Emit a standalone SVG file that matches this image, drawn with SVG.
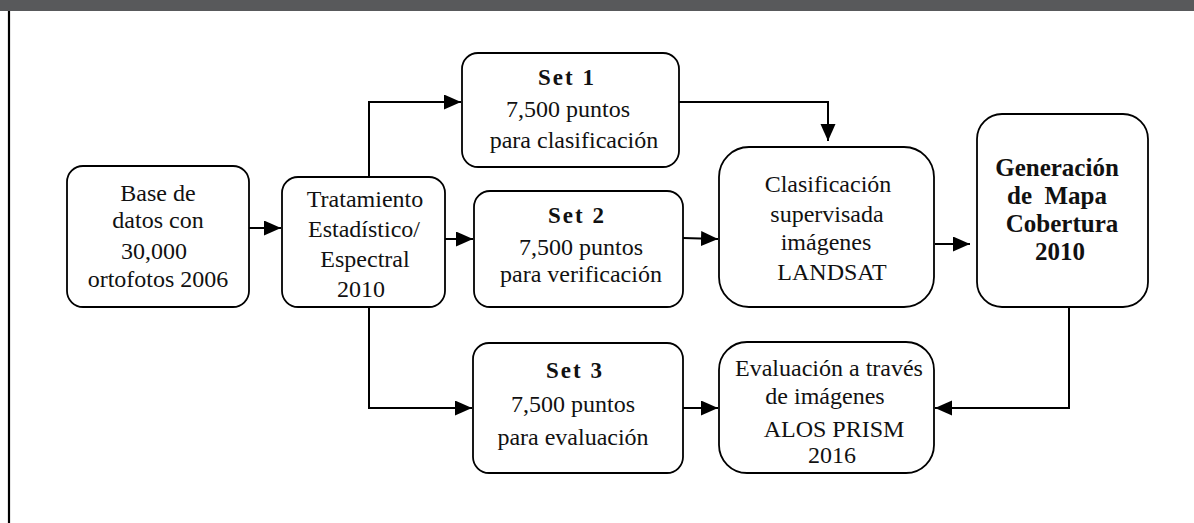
<svg xmlns="http://www.w3.org/2000/svg" width="1194" height="523" viewBox="0 0 1194 523">
<style>
.box{fill:#fff;stroke:#000;stroke-width:1.8}
.t{font-family:'Liberation Serif','Times New Roman',Times,serif;font-size:24px;font-weight:normal;fill:#111;text-anchor:middle}
.b{font-weight:bold}
.sp{letter-spacing:2px;font-size:23px}
.g{font-size:25px}
.c{fill:none;stroke:#000;stroke-width:2}
</style>
<defs>
<marker id="ah" markerUnits="userSpaceOnUse" markerWidth="18" markerHeight="16" refX="17" refY="7.5" orient="auto">
<path d="M0,0 L17,7.5 L0,15 Z" fill="#000"/>
</marker>
</defs>
<rect x="0" y="0" width="1194" height="11" fill="#58595b"/>
<line x1="9" y1="11" x2="9" y2="523" stroke="#000" stroke-width="2.2"/>

<g id="connectors">
<path class="c" d="M249,228 H281" marker-end="url(#ah)"/>
<path class="c" d="M369,177 V102 H461" marker-end="url(#ah)"/>
<path class="c" d="M445,239 H473" marker-end="url(#ah)"/>
<path class="c" d="M369,307 V408 H472" marker-end="url(#ah)"/>
<path class="c" d="M679,102 H828 V141" marker-end="url(#ah)"/>
<path class="c" d="M683,238 L718,239" marker-end="url(#ah)"/>
<path class="c" d="M935,244 H970" marker-end="url(#ah)"/>
<path class="c" d="M683,408 H718" marker-end="url(#ah)"/>
<path class="c" d="M1069,307 V408 H935" marker-end="url(#ah)"/>
</g>

<g id="base">
<rect class="box" x="67" y="166" width="182" height="141" rx="16"/>
<text class="t" x="158" y="201">Base de</text>
<text class="t" x="158" y="228">datos con</text>
<text class="t" x="154" y="259">30,000</text>
<text class="t" x="158" y="287">ortofotos 2006</text>
</g>

<g id="tratamiento">
<rect class="box" x="282" y="177" width="163" height="130" rx="16"/>
<text class="t" x="365" y="207">Tratamiento</text>
<text class="t" x="364" y="237">Estadístico/</text>
<text class="t" x="365" y="267">Espectral</text>
<text class="t" x="361" y="297">2010</text>
</g>

<g id="set1">
<rect class="box" x="462" y="53" width="217" height="114" rx="16"/>
<text class="t b sp" x="567" y="85">Set 1</text>
<text class="t" x="568" y="117">7,500 puntos</text>
<text class="t" x="574" y="148">para clasificación</text>
</g>

<g id="set2">
<rect class="box" x="474" y="191" width="209" height="116" rx="16"/>
<text class="t b sp" x="577" y="223">Set 2</text>
<text class="t" x="581" y="255">7,500 puntos</text>
<text class="t" x="581" y="282">para verificación</text>
</g>

<g id="set3">
<rect class="box" x="473" y="343" width="210" height="130" rx="16"/>
<text class="t b sp" x="575" y="378">Set 3</text>
<text class="t" x="573" y="412">7,500 puntos</text>
<text class="t" x="573" y="445">para evaluación</text>
</g>

<g id="clasificacion">
<rect class="box" x="719" y="147" width="215" height="160" rx="30"/>
<text class="t" x="828" y="192">Clasificación</text>
<text class="t" x="827" y="222">supervisada</text>
<text class="t" x="826" y="250">imágenes</text>
<text class="t" x="832" y="280">LANDSAT</text>
</g>

<g id="generacion">
<rect class="box" x="977" y="114" width="171" height="193" rx="25"/>
<text class="t b g" x="1057" y="176">Generación</text>
<text class="t b g" x="1057" y="204" xml:space="preserve">de  Mapa</text>
<text class="t b g" x="1062" y="232">Cobertura</text>
<text class="t b g" x="1060" y="260">2010</text>
</g>

<g id="evaluacion">
<rect class="box" x="719" y="342" width="215" height="131" rx="28"/>
<text class="t" x="829" y="376">Evaluación a través</text>
<text class="t" x="825" y="404">de imágenes</text>
<text class="t" x="834" y="437">ALOS PRISM</text>
<text class="t" x="832" y="463">2016</text>
</g>
</svg>
